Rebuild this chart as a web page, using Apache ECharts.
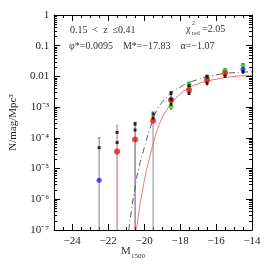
<!DOCTYPE html>
<html><head><meta charset="utf-8">
<script src="https://cdn.jsdelivr.net/npm/echarts@6/dist/echarts.min.js"></script>
<style>html,body{margin:0;padding:0;background:#fff}#c{width:266px;height:266px}</style>
</head><body><div id="c"></div>
<script>
// ---- data ----
const xMajorTicks = [-24, -22, -20, -18, -16, -14];
const yMajorTicks = [1e-7, 1e-6, 1e-5, 1e-4, 1e-3, 0.01, 0.1, 1];
const yMinorTicks = [];
for (let e = -7; e < 0; e++) for (let m = 2; m <= 9; m++) yMinorTicks.push(m * Math.pow(10, e));

// Schechter fit (red, solid)
const redCurveM = [-20.42, -20.3, -20.1, -19.9, -19.7, -19.5, -19.3, -19.0, -18.7, -18.5, -18.0, -17.5, -17.0, -16.5, -16.0, -15.5, -15.0, -14.5, -14.0];
const redCurveLog = [-7.0, -6.45, -5.75, -5.15, -4.65, -4.2, -3.8, -3.35, -3.05, -2.88, -2.58, -2.37, -2.24, -2.15, -2.09, -2.04, -2.0, -1.98, -1.96];
// dashed comparison curve
const dashCurveM = [-20.85, -20.7, -20.5, -20.3, -20.0, -19.7, -19.3, -19.0, -18.5, -18.0, -17.5, -17.0, -16.5, -16.0, -15.5, -15.0, -14.5, -14.0];
const dashCurveLog = [-7.0, -6.35, -5.6, -5.0, -4.35, -3.75, -3.1, -2.85, -2.54, -2.35, -2.2, -2.1, -2.0, -1.95, -1.9, -1.88, -1.86, -1.85];

const blackM = [-22.5, -21.5, -21.5, -20.5, -20.5, -19.5, -19.5, -18.5, -18.5, -18.5, -17.5, -17.5, -16.5, -16.5, -15.5, -14.5];
const blackV = [4.8e-5, 1.5e-4, 7e-5, 2.8e-4, 1.8e-4, 6e-4, 4.5e-4, 2.8e-3, 1.8e-3, 1.25e-3, 5e-3, 2.8e-3, 9.8e-3, 6e-3, 1.02e-2, 1.4e-2];
const redM = [-21.5, -20.5, -19.5, -18.5, -17.5, -16.5, -15.5];
const redV = [3.6e-5, 8.9e-5, 3.6e-4, 1.7e-3, 3.6e-3, 7.6e-3, 1.3e-2];
const greenM = [-18.5, -17.5, -16.5, -15.5, -14.5];
const greenV = [1.05e-3, 5.5e-3, 9.3e-3, 1.6e-2, 2.3e-2];
const blueM = [-22.5, -14.5];
const blueV = [4.2e-6, 1.7e-2];

// error bars [M, low, high]
const errPurple = [[-22.5, 1e-7, 1e-4]];
const errPink = [[-21.5, 1e-7, 2.6e-4]];
const errDark = [[-20.5, 1e-7, 3.2e-4]];
const errGray = [[-19.5, 1e-7, 7e-4]];
const errBlack = [[-18.5, 8e-4, 3.2e-3], [-17.5, 2.5e-3, 6.5e-3], [-16.5, 5e-3, 1.1e-2], [-15.5, 9e-3, 1.8e-2], [-14.5, 1.2e-2, 2.6e-2]];

// ---- chart ----
const FONT = 'Liberation Serif';
const sup = {'-': '⁻', '0': '⁰', '1': '¹', '2': '²', '3': '³', '4': '⁴', '5': '⁵', '6': '⁶', '7': '⁷', '8': '⁸', '9': '⁹'};
function yFmt(v) {
  const e = Math.round(Math.log10(v));
  if (e >= -2) return e === 0 ? '1' : (e === -1 ? '0.1' : '0.01');
  return '10' + String(e).split('').map(c => sup[c]).join('');
}
function pairs(ms, vs) { return ms.map((m, i) => [m, vs[i]]); }
function logPairs(ms, ls) { return ms.map((m, i) => [m, Math.pow(10, ls[i])]); }

function errSeries(data, color, width) {
  return {
    type: 'custom', clip: true, z: 2,
    renderItem: function (params, api) {
      const x = api.value(0), lo = api.value(1), hi = api.value(2);
      const p1 = api.coord([x, lo]), p2 = api.coord([x, hi]);
      return {
        type: 'group', children: [
          { type: 'line', shape: { x1: p1[0], y1: p1[1], x2: p2[0], y2: p2[1] }, style: { stroke: color, lineWidth: width } },
          { type: 'line', shape: { x1: p2[0] - 1.5, y1: p2[1], x2: p2[0] + 1.5, y2: p2[1] }, style: { stroke: color, lineWidth: 1 } }
        ]
      };
    },
    data: data
  };
}

const axisCommon = { min: -25, max: -14, gridIndex: 0 };
function xAx(pos, major, showLine) {
  return Object.assign({
    type: 'value', position: pos,
    axisLine: { show: showLine, onZero: false, lineStyle: { color: '#000', width: 1 } },
    splitLine: { show: false },
    axisTick: major ? { show: true, inside: true, length: 6, customValues: xMajorTicks, lineStyle: { color: '#000' } }
                    : { show: true, inside: true, length: 3, lineStyle: { color: '#000' } },
    axisLabel: (major && pos === 'bottom') ? { show: true, customValues: xMajorTicks, fontFamily: FONT, fontSize: 11, color: '#222', margin: 6,
      formatter: v => (v < 0 ? '−' + Math.abs(v) : String(v)) } : { show: false }
  }, axisCommon, major ? {} : { interval: 0.5 });
}
function yAx(pos, major, showLine) {
  return {
    type: 'log', logBase: 10, min: 1e-7, max: 1, position: pos, gridIndex: 0,
    axisLine: { show: showLine, onZero: false, lineStyle: { color: '#000', width: 1 } },
    splitLine: { show: false },
    axisTick: { show: true, inside: true, length: major ? 6 : 3, customValues: major ? yMajorTicks : yMinorTicks, lineStyle: { color: '#000' } },
    axisLabel: (major && pos === 'left') ? { show: true, customValues: yMajorTicks, fontFamily: FONT, fontSize: 11, color: '#222', margin: 5, formatter: yFmt } : { show: false },
    name: (major && pos === 'left') ? 'N/mag/Mpc³' : '',
    nameLocation: 'middle', nameGap: 33, nameRotate: 90,
    nameTextStyle: { fontFamily: FONT, fontSize: 11, color: '#222' }
  };
}

const txt = (l, t, s, fs) => ({ type: 'text', left: l, top: t, style: { text: s, fontFamily: FONT, fontSize: fs, fill: '#333' } });

const chart = echarts.init(document.getElementById('c'), null, { renderer: 'canvas' });
chart.setOption({
  animation: false,
  backgroundColor: '#fff',
  grid: { left: 48, right: 14, top: 15, bottom: 36, containLabel: false },
  xAxis: [xAx('bottom', true, true), xAx('bottom', false, false), xAx('top', true, true), xAx('top', false, false)],
  yAxis: [yAx('left', true, true), yAx('left', false, false), yAx('right', true, true), yAx('right', false, false)],
  graphic: [
    txt(70, 25, '0.15  <  z  ≤0.41', 10),
    txt(186, 24, 'χ', 10),
    txt(192, 20, '2', 6),
    txt(192, 30, 'red', 6),
    txt(202, 24, '=2.05', 10),
    txt(69, 41, 'φ*=0.0095    M*=−17.83    α=−1.07', 10),
    txt(121, 246, 'M', 11),
    txt(131, 253, '1500', 7)
  ],
  series: [
    errSeries(errPurple, '#7a74b8', 1),
    errSeries(errPink, '#d9a9bd', 2),
    errSeries(errDark, '#6a4a72', 1),
    errSeries(errGray, '#8a8a8a', 1),
    errSeries(errBlack, '#222', 1),
    { type: 'line', data: logPairs(redCurveM, redCurveLog), showSymbol: false, smooth: true, clip: true, z: 3,
      lineStyle: { color: '#f07070', width: 1 } },
    { type: 'line', data: logPairs(dashCurveM, dashCurveLog), showSymbol: false, smooth: true, clip: true, z: 3,
      lineStyle: { color: '#555', width: 1, type: [6, 3, 1, 3] } },
    { type: 'scatter', data: pairs(greenM, greenV), symbol: 'circle', symbolSize: 5, itemStyle: { color: '#22dd22' }, z: 4 },
    { type: 'scatter', data: pairs(blueM, blueV), symbol: 'circle', symbolSize: 5, itemStyle: { color: '#2222ee' }, z: 4 },
    { type: 'scatter', data: pairs(redM, redV), symbol: 'circle', symbolSize: 6, itemStyle: { color: '#ee1111' }, z: 5 },
    { type: 'scatter', data: pairs(blackM, blackV), symbol: 'rect', symbolSize: 3, itemStyle: { color: '#000' }, z: 6 }
  ]
});
</script></body></html>
